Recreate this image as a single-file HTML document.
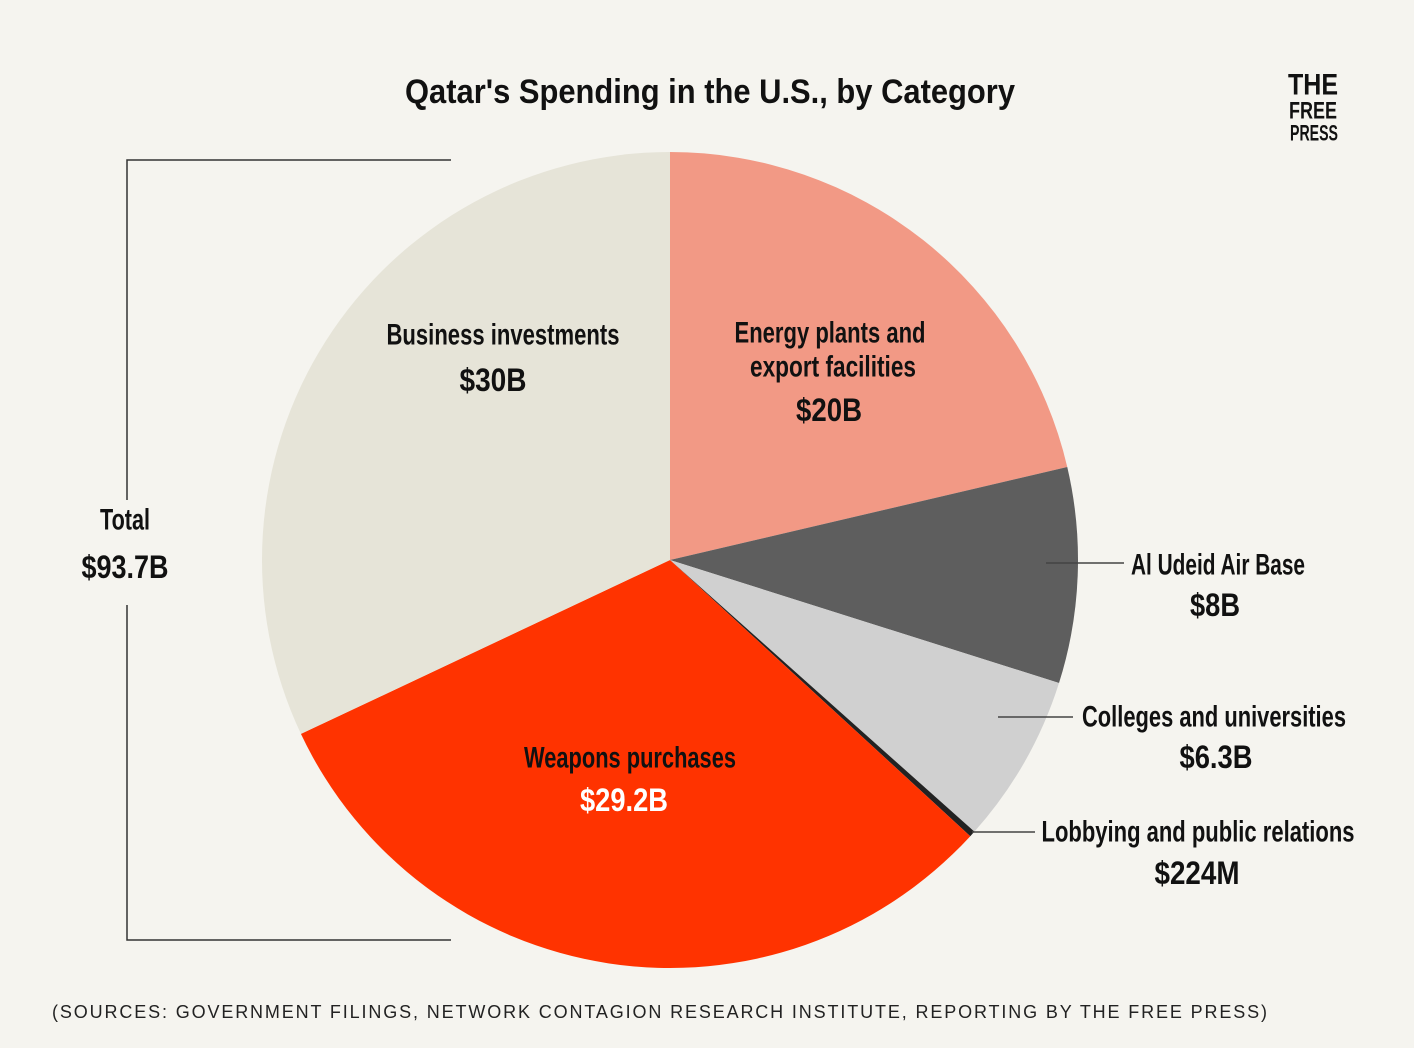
<!DOCTYPE html>
<html><head><meta charset="utf-8"><style>
body{margin:0;background:#f5f4ef;}
svg{display:block;}
.t{font-family:"Liberation Sans Narrow","Liberation Sans",sans-serif;font-weight:bold;fill:#111;}
</style></head><body>
<svg id="chart" width="1414" height="1048" viewBox="0 0 1414 1048">
<rect width="1414" height="1048" fill="#f5f4ef"/>
<text class="t" x="710" y="92" font-size="34" text-anchor="middle" dominant-baseline="central" textLength="610" lengthAdjust="spacingAndGlyphs">Qatar's Spending in the U.S., by Category</text>
<g>
<text class="t" x="1313" y="85" font-size="30" text-anchor="middle" dominant-baseline="central" textLength="50" lengthAdjust="spacingAndGlyphs">THE</text>
<text class="t" x="1313" y="111" font-size="24" text-anchor="middle" dominant-baseline="central" textLength="48" lengthAdjust="spacingAndGlyphs">FREE</text>
<text class="t" x="1314" y="133" font-size="22" text-anchor="middle" dominant-baseline="central" textLength="48" lengthAdjust="spacingAndGlyphs">PRESS</text>
</g>
<g id="slices"></g>
<g stroke="#333" stroke-width="1.5" fill="none">
<polyline points="451,160 127,160 127,500"/>
<polyline points="127,605 127,940 451,940"/>
</g>
<text class="t" x="125" y="520" font-size="30" text-anchor="middle" dominant-baseline="central" font-weight="normal" textLength="50" lengthAdjust="spacingAndGlyphs">Total</text>
<text class="t" x="125" y="567" font-size="32" text-anchor="middle" dominant-baseline="central" textLength="87" lengthAdjust="spacingAndGlyphs">$93.7B</text>
<g stroke="#444" stroke-width="1.5">
<line x1="1046" y1="563" x2="1124" y2="563"/>
<line x1="998" y1="717" x2="1073" y2="717"/>
<line x1="972" y1="832" x2="1035" y2="832"/>
</g>
<g id="labels"></g>
<text x="52" y="1012" font-family="Liberation Sans,sans-serif" font-size="18" fill="#222" dominant-baseline="central" textLength="1215" lengthAdjust="spacing">(SOURCES: GOVERNMENT FILINGS, NETWORK CONTAGION RESEARCH INSTITUTE, REPORTING BY THE FREE PRESS)</text>
</svg>
<script>
const categories=["Energy plants and export facilities","Al Udeid Air Base","Colleges and universities","Lobbying and public relations","Weapons purchases","Business investments"];
const values=[20,8,6.3,0.224,29.2,30];
const valueLabels=["$20B","$8B","$6.3B","$224M","$29.2B","$30B"];
const colors=["#f29985","#5e5e5e","#d0d0d0","#222222","#ff3300","#e6e4d8"];
const cx=670,cy=560,r=408;
const total=values.reduce((a,b)=>a+b,0);
const NS="http://www.w3.org/2000/svg";
const g=document.getElementById('slices');
function pt(a,rr){return [cx+rr*Math.sin(a),cy-rr*Math.cos(a)];}
let a0=0;
values.forEach((v,i)=>{
  const a1=a0+v/total*2*Math.PI;
  const p0=pt(a0,r),p1=pt(a1,r);
  const large=(a1-a0)>Math.PI?1:0;
  const p=document.createElementNS(NS,'path');
  p.setAttribute('d',`M${cx},${cy}L${p0[0]},${p0[1]}A${r},${r} 0 ${large} 1 ${p1[0]},${p1[1]}Z`);
  p.setAttribute('fill',colors[i]);
  
  
  g.appendChild(p);
  a0=a1;
});
const labelPos=[
 {x:[830,833],w:[191,166],lines:["Energy plants and","export facilities"],y:333,vx:829,vw:66,vy:410,fill:"#111"},
 {x:[1218],w:[174],lines:["Al Udeid Air Base"],y:565,vx:1215,vw:50,vy:605,fill:"#111"},
 {x:[1214],w:[264],lines:["Colleges and universities"],y:717,vx:1216,vw:73,vy:757,fill:"#111"},
 {x:[1198],w:[313],lines:["Lobbying and public relations"],y:832,vx:1197,vw:85,vy:873,fill:"#111"},
 {x:[630],w:[212],lines:["Weapons purchases"],y:758,vx:624,vw:88,vy:800,fill:"#fff"},
 {x:[503],w:[233],lines:["Business investments"],y:335,vx:493,vw:67,vy:380,fill:"#111"}
];
const lg=document.getElementById('labels');
labelPos.forEach((L,i)=>{
  L.lines.forEach((ln,j)=>{
    const t=document.createElementNS(NS,'text');
    t.setAttribute('class','t');
    t.setAttribute('x',L.x[j]);t.setAttribute('y',L.y+j*34);
    t.setAttribute('font-size','30');t.setAttribute('font-weight','normal');
    t.setAttribute('text-anchor','middle');t.setAttribute('dominant-baseline','central');
    t.setAttribute('textLength',L.w[j]);t.setAttribute('lengthAdjust','spacingAndGlyphs');
    
    
    t.textContent=ln;lg.appendChild(t);
  });
  const v=document.createElementNS(NS,'text');
  v.setAttribute('class','t');
  v.setAttribute('x',L.vx);v.setAttribute('y',L.vy);
  v.setAttribute('font-size','32');
  v.setAttribute('text-anchor','middle');v.setAttribute('dominant-baseline','central');
  v.setAttribute('textLength',L.vw);v.setAttribute('lengthAdjust','spacingAndGlyphs');
  v.style.fill=L.fill;
  
  
  v.textContent=valueLabels[i];lg.appendChild(v);
});
</script>
</body></html>
